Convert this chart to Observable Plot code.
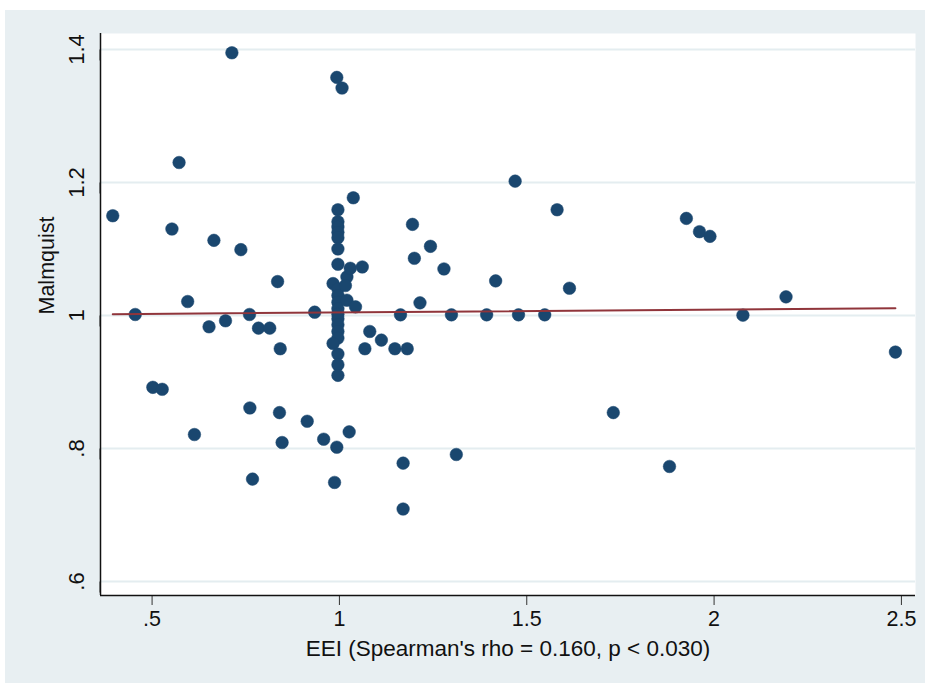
<!DOCTYPE html>
<html>
<head>
<meta charset="utf-8">
<script src="https://cdn.jsdelivr.net/npm/d3@7"></script>
<script src="https://cdn.jsdelivr.net/npm/@observablehq/plot@0.6"></script>
<style>
  html, body { margin: 0; padding: 0; background: #ffffff; }
  #wrap { position: absolute; left: 5px; top: 10px; width: 920px; height: 673px; background: #e8eff2; }
  #wrap svg { display: block; background: transparent; }
</style>
</head>
<body>
<div id="wrap"></div>
<script>
// EEI (x) and Malmquist (y) values
const eei = [
  0.395, 0.455, 0.502, 0.527, 0.553, 0.572, 0.595, 0.613, 0.652, 0.665,
  0.696, 0.713, 0.737, 0.760, 0.761, 0.768, 0.784, 0.814, 0.835, 0.840,
  0.842, 0.847, 0.914, 0.934, 0.958,
  0.993, 1.007,
  0.996, 0.996, 0.996, 0.996, 0.996, 0.996, 0.996, 0.983, 0.996, 0.996,
  0.996, 0.996, 0.996, 0.996, 0.996, 0.996, 0.996, 0.983, 0.996, 0.996,
  0.996, 0.993, 0.987,
  1.037, 1.020, 1.016, 1.020, 1.043, 1.029, 1.061, 1.026, 1.068, 1.081,
  1.112, 1.148, 1.163, 1.170, 1.170, 1.181, 1.195, 1.200, 1.215, 1.243,
  1.279, 1.299, 1.312, 1.393, 1.417, 1.469, 1.478, 1.548, 1.581, 1.614,
  1.731, 1.881, 1.926, 1.961, 1.989, 2.077, 2.192, 2.484
];
const malmquist = [
  1.150, 1.0015, 0.892, 0.889, 1.130, 1.230, 1.021, 0.821, 0.983, 1.113,
  0.992, 1.395, 1.099, 1.0015, 0.861, 0.754, 0.981, 0.981, 1.051, 0.854,
  0.950, 0.809, 0.841, 1.005, 0.814,
  1.358, 1.342,
  1.159, 1.141, 1.133, 1.125, 1.117, 1.100, 1.077, 1.048, 1.040, 1.030,
  1.020, 1.010, 1.002, 0.995, 0.986, 0.976, 0.966, 0.958, 0.942, 0.926,
  0.910, 0.802, 0.749,
  1.177, 1.058, 1.045, 1.023, 1.013, 1.071, 1.073, 0.825, 0.950, 0.976,
  0.963, 0.950, 1.001, 0.778, 0.709, 0.950, 1.137, 1.086, 1.019, 1.104,
  1.070, 1.001, 0.791, 1.001, 1.052, 1.202, 1.001, 1.001, 1.159, 1.041,
  0.854, 0.773, 1.146, 1.126, 1.119, 1.0005, 1.028, 0.945
];

// Linear fit line endpoints
const fitEei = [0.395, 2.484];
const fitMalmquist = [1.002, 1.011];

// Ticks
const xTicks = [0.5, 1, 1.5, 2, 2.5];
const xTickLabels = [".5", "1", "1.5", "2", "2.5"];
const yTicks = [0.6, 0.8, 1, 1.2, 1.4];
const yTickLabels = [".6", ".8", "1", "1.2", "1.4"];

const xTitle = "EEI (Spearman's rho = 0.160, p < 0.030)";
const yTitle = "Malmquist";

const xDomain = [0.3623, 2.5376];
const yDomain = [0.579, 1.424];

const points = eei.map((x, i) => ({x, y: malmquist[i]}));
const fit = fitEei.map((x, i) => ({x, y: fitMalmquist[i]}));

const font = "'Liberation Sans', Arial, Helvetica, sans-serif";

const chart = Plot.plot({
  width: 920,
  height: 673,
  marginLeft: 95,
  marginRight: 10,
  marginTop: 23,
  marginBottom: 88,
  style: {fontFamily: font, fontSize: "21px", color: "#111", background: "transparent"},
  x: {domain: xDomain},
  y: {domain: yDomain},
  marks: [
    Plot.frame({fill: "#ffffff", stroke: null}),
    Plot.gridY(yTicks, {stroke: "#e4edf0", strokeOpacity: 1, strokeWidth: 2}),
    Plot.axisX(xTicks, {
      tickSize: 10, tickPadding: 5, fontSize: 21.5,
      tickFormat: d => xTickLabels[xTicks.indexOf(d)],
      stroke: "#333", color: "#111", label: null
    }),
    Plot.axisY(yTicks, {
      tickSize: 11, tickPadding: 13, fontSize: 22, rotate: -90, textAnchor: "middle",
      tickFormat: d => yTickLabels[yTicks.indexOf(d)],
      stroke: "#333", label: null
    }),
    Plot.ruleX([xDomain[0]], {stroke: "#111", strokeWidth: 1.5}),
    Plot.ruleY([yDomain[0]], {stroke: "#111", strokeWidth: 1.5}),
    Plot.dot(points, {x: "x", y: "y", r: 6.3, fill: "#1a476f", stroke: "#1a476f", strokeWidth: 0.5}),
    Plot.line(fit, {x: "x", y: "y", stroke: "#90353b", strokeWidth: 2}),
    Plot.text([xTitle], {frameAnchor: "bottom", dy: 53, text: d => d, fontSize: 22.5, fill: "#111", lineAnchor: "middle"}),
    Plot.text([yTitle], {frameAnchor: "left", dx: -53, text: d => d, fontSize: 21.5, fill: "#111", rotate: -90, lineAnchor: "middle"})
  ]
});
document.getElementById("wrap").appendChild(chart);
</script>
</body>
</html>
